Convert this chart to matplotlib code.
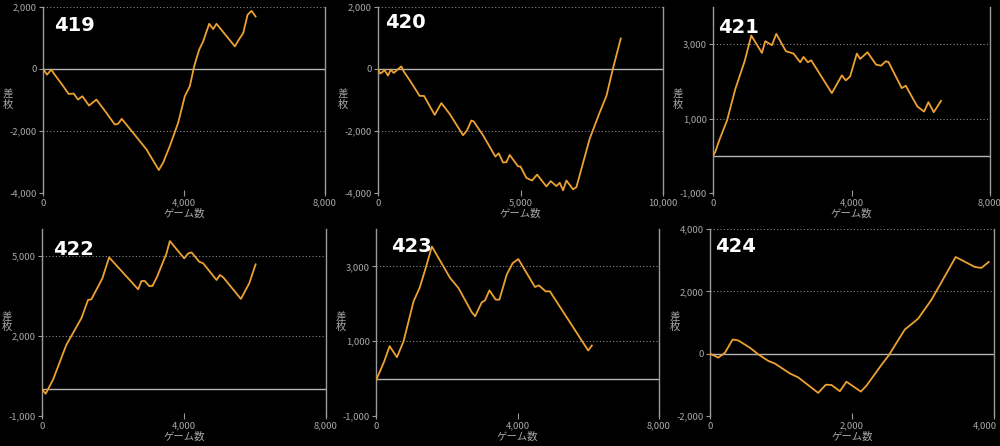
import matplotlib
matplotlib.use("Agg")
import matplotlib.pyplot as plt
import matplotlib.transforms as mtrans
from matplotlib.ticker import FuncFormatter

plt.rcParams['font.family'] = ['Noto Sans CJK JP', 'DejaVu Sans']
plt.rcParams['axes.unicode_minus'] = False

# ---- data (games, coin difference) ----
titles = ["419", "420", "421", "422", "423", "424"]

g419 = [0, 114, 237, 331, 521, 729, 871, 994, 1117, 1306, 1515, 1799, 2035, 2130, 2234, 2556,
        2935, 3285, 3408, 3597, 3834, 4023, 4165, 4288, 4430, 4544, 4714, 4828, 4922, 5443,
        5566, 5680, 5803, 5917, 6030]
v419 = [0, -182, -21, -182, -472, -804, -793, -986, -879, -1179, -986, -1415, -1790, -1769, -1608,
        -2058, -2594, -3259, -3023, -2487, -1737, -879, -557, 86, 622, 890, 1458, 1287, 1458, 729,
        965, 1158, 1747, 1876, 1694]

g420 = [0, 82, 234, 351, 444, 550, 819, 900, 1170, 1462, 1615, 1989, 2223, 2516, 2984, 3124, 3276,
        3358, 3686, 4118, 4235, 4388, 4505, 4622, 4914, 4997, 5207, 5405, 5581, 5909, 6061, 6260,
        6377, 6494, 6611, 6845, 6962, 7430, 7781, 8015, 8249, 8518]
v420 = [-21, -148, -42, -212, -21, -127, 85, -74, -444, -868, -868, -1481, -1100, -1450, -2137,
        -1978, -1661, -1693, -2137, -2825, -2719, -3015, -3005, -2772, -3142, -3142, -3513, -3597,
        -3407, -3788, -3618, -3777, -3671, -3915, -3597, -3883, -3809, -2243, -1397, -868, 32, 984]

g421 = [0, 67, 183, 404, 644, 913, 1106, 1413, 1510, 1702, 1827, 2106, 2327, 2519, 2615, 2740, 2836,
        3432, 3721, 3836, 3961, 4154, 4250, 4461, 4711, 4855, 4990, 5067, 5451, 5567, 5903, 6096,
        6221, 6375, 6586]
v421 = [0, 108, 423, 946, 1793, 2541, 3234, 2766, 3081, 2973, 3279, 2811, 2748, 2514, 2658, 2514,
        2568, 1685, 2162, 2027, 2135, 2748, 2604, 2784, 2450, 2423, 2541, 2523, 1820, 1883, 1324,
        1189, 1441, 1171, 1477]

g422 = [0, 103, 310, 686, 1109, 1297, 1391, 1701, 1890, 2708, 2802, 2896, 3018, 3112, 3243, 3507,
        3601, 4005, 4118, 4212, 4428, 4541, 4917, 5011, 5105, 5603, 5838, 6017]
v422 = [0, -166, 357, 1664, 2660, 3344, 3369, 4154, 4938, 3743, 4054, 4054, 3867, 3867, 4216, 5087,
        5548, 4900, 5087, 5124, 4776, 4714, 4091, 4278, 4191, 3382, 3967, 4676]

g423 = [0, 103, 235, 385, 592, 780, 1062, 1232, 1391, 1579, 2096, 2331, 2708, 2802, 2990, 3084,
        3206, 3384, 3488, 3695, 3864, 4024, 4494, 4606, 4794, 4917, 5998, 6101]
v423 = [-40, 173, 467, 867, 573, 1000, 2067, 2422, 2911, 3533, 2689, 2422, 1773, 1667, 2040, 2093,
        2360, 2111, 2111, 2778, 3089, 3196, 2449, 2493, 2333, 2333, 751, 884]

g424 = [0, 117, 211, 319, 399, 563, 680, 821, 914, 1125, 1243, 1524, 1632, 1711, 1829, 1922, 2124,
        2204, 2415, 2518, 2743, 2931, 3118, 3329, 3460, 3526, 3728, 3822, 3925]
v424 = [0, -127, 32, 455, 423, 190, -21, -233, -317, -635, -762, -1259, -995, -1005, -1206, -899,
        -1217, -1026, -360, -53, 772, 1122, 1725, 2571, 3101, 3026, 2783, 2751, 2942]

games = [g419, g420, g421, g422, g423, g424]
values = [v419, v420, v421, v422, v423, v424]

xlims = [(0, 8000), (0, 10000), (0, 8000), (0, 8000), (0, 8000), (0, 4000)]
xticks = [[0, 4000, 8000], [0, 5000, 10000], [0, 4000, 8000],
          [0, 4000, 8000], [0, 4000, 8000], [0, 2000, 4000]]
ylims = [(-4000, 2000), (-4000, 2000), (-1000, 4000), (-1000, 6000), (-1000, 4000), (-2000, 4000)]
yticks = [[-4000, -2000, 0, 2000], [-4000, -2000, 0, 2000], [-1000, 1000, 3000],
          [-1000, 2000, 5000], [-1000, 1000, 3000], [-2000, 0, 2000, 4000]]
title_pos = [(0.039, 0.898), (0.025, 0.915), (0.02, 0.89),
             (0.039, 0.888), (0.053, 0.909), (0.018, 0.904)]

xlabel = "ゲーム数"
ylabel = "差枚"

W, H = 1000, 446
# axes pixel boxes: left, right, top, bottom
boxes = [(43, 325, 7, 193), (378, 663, 7, 193), (713, 990, 7, 193),
         (42, 326, 229, 416), (376, 659, 229, 416), (710, 994, 229, 416)]

fig = plt.figure(figsize=(10, 4.46), dpi=100, facecolor="black")

LINE = "#eda133"
GRID = "#8a8a8a"
SPINE = "#9a9a9a"
TXT = "#a8a8a8"

fmt = FuncFormatter(lambda v, p: f"{int(v):,}")

for i in range(6):
    l, r, t, b = boxes[i]
    ax = fig.add_axes([l / W, 1 - b / H, (r - l) / W, (b - t) / H])
    ax.set_facecolor("black")
    ax.set_xlim(*xlims[i])
    ax.set_ylim(*ylims[i])
    ax.set_xticks(xticks[i])
    ax.set_yticks(yticks[i])
    ax.xaxis.set_major_formatter(fmt)
    ax.yaxis.set_major_formatter(fmt)
    for s in ["top", "bottom"]:
        ax.spines[s].set_visible(False)
    for s in ["left", "right"]:
        ax.spines[s].set_color(SPINE)
        ax.spines[s].set_linewidth(1.0)
    for yv in yticks[i]:
        if yv != 0:
            ax.axhline(yv, color=GRID, lw=0.8, ls=(0, (1, 2)), zorder=1)
    ax.axhline(0, color="#b5b5b5", lw=1.0, zorder=1)
    ax.tick_params(axis="y", direction="out", length=3, width=0.8, color=SPINE,
                   labelcolor=TXT, labelsize=6.8, pad=1.5)
    ax.tick_params(axis="x", direction="inout", length=4, width=0.8, color=SPINE,
                   labelcolor=TXT, labelsize=6.8, pad=2)
    if i == 5:
        lbls = ax.get_xticklabels()
        off = mtrans.ScaledTranslation(-9 / 100, 0, fig.dpi_scale_trans)
        lbls[-1].set_transform(lbls[-1].get_transform() + off)
    ax.plot(games[i], values[i], color=LINE, lw=1.3, zorder=3, solid_joinstyle="round")
    ax.text(title_pos[i][0], title_pos[i][1], titles[i], transform=ax.transAxes,
            color="white", fontsize=14, fontweight="bold", va="center", ha="left",
            family="DejaVu Sans")
    ax.set_xlabel(xlabel, color=TXT, fontsize=7.5, labelpad=1)
    tr = mtrans.offset_copy(ax.transAxes, fig=fig, x=-35, y=0, units="dots")
    ax.text(0, 0.5, "差\n枚", transform=tr, color=TXT, fontsize=7.5,
            ha="center", va="center", linespacing=0.95)

fig.savefig("out.png", dpi=100, facecolor="black")
